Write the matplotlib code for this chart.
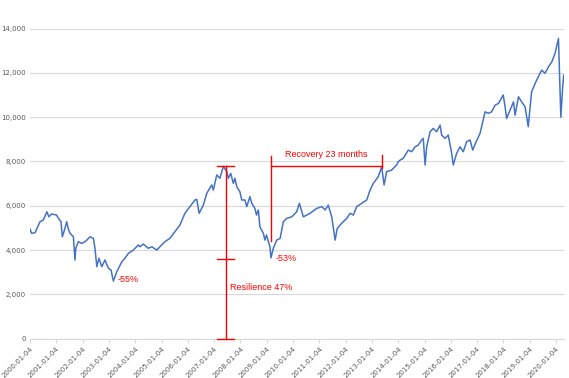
import matplotlib.pyplot as plt

# index level (decimal year, value)
years = [2000.01, 2000.07, 2000.20, 2000.39, 2000.52, 2000.65, 2000.73, 2000.83, 2001.02, 2001.09,
         2001.19, 2001.24, 2001.34, 2001.405, 2001.47, 2001.53, 2001.66, 2001.72, 2001.75, 2001.85,
         2001.98, 2002.10, 2002.17, 2002.29, 2002.42, 2002.48, 2002.55, 2002.63, 2002.74, 2002.86,
         2002.99, 2003.09, 2003.18, 2003.31, 2003.50, 2003.62, 2003.75, 2003.94, 2004.13, 2004.19,
         2004.32, 2004.51, 2004.64, 2004.83, 2004.95, 2005.14, 2005.33, 2005.52, 2005.71, 2005.90,
         2006.09, 2006.28, 2006.35, 2006.44, 2006.60, 2006.73, 2006.92, 2006.98, 2007.11, 2007.23,
         2007.36, 2007.49, 2007.55, 2007.64, 2007.74, 2007.80, 2007.87, 2007.99, 2008.06, 2008.18,
         2008.25, 2008.37, 2008.44, 2008.56, 2008.62, 2008.69, 2008.75, 2008.88, 2008.94, 2009.00,
         2009.13, 2009.17, 2009.26, 2009.39, 2009.52, 2009.64, 2009.77, 2009.96, 2010.15, 2010.25,
         2010.40, 2010.66, 2010.91, 2011.10, 2011.23, 2011.35, 2011.48, 2011.61, 2011.69, 2011.86,
         2012.05, 2012.18, 2012.30, 2012.43, 2012.62, 2012.81, 2012.94, 2013.06, 2013.25, 2013.38,
         2013.47, 2013.57, 2013.76, 2013.95, 2014.01, 2014.08, 2014.20, 2014.39, 2014.52, 2014.65,
         2014.77, 2014.90, 2014.96, 2015.03, 2015.09, 2015.22, 2015.34, 2015.47, 2015.60, 2015.66,
         2015.79, 2015.91, 2016.04, 2016.10, 2016.23, 2016.36, 2016.48, 2016.61, 2016.74, 2016.84,
         2016.97, 2017.12, 2017.18, 2017.31, 2017.43, 2017.56, 2017.69, 2017.82, 2018.00, 2018.07,
         2018.13, 2018.26, 2018.39, 2018.45, 2018.58, 2018.70, 2018.83, 2018.95, 2019.08, 2019.27,
         2019.46, 2019.59, 2019.72, 2019.85, 2019.97, 2020.10, 2020.19, 2020.26, 2020.30]
values = [4950, 4760, 4780, 5280, 5360, 5730, 5500, 5630, 5580, 5430,
          5280, 4600, 4980, 5280, 4940, 4760, 4600, 3550, 4080, 4380,
          4300, 4380, 4450, 4600, 4530, 4080, 3250, 3630, 3250, 3550,
          3180, 3100, 2600, 3020, 3470, 3630, 3850, 4000, 4230, 4150,
          4270, 4080, 4150, 4000, 4150, 4380, 4530, 4830, 5130, 5660,
          5960, 6260, 6290, 5660, 6030, 6560, 6940, 6710, 7390, 7240,
          7780, 7540, 7240, 7460, 7010, 7240, 6860, 6630, 6260, 6260,
          5960, 6410, 6110, 5880, 5580, 5810, 5050, 4760, 4450, 4680,
          4150, 3650, 4080, 4450, 4530, 5280, 5430, 5500, 5730, 6110,
          5500, 5660, 5880, 5960, 5810, 6030, 5500, 4450, 4980, 5210,
          5430, 5660, 5580, 5960, 6110, 6260, 6710, 7010, 7310, 7760,
          6940, 7540, 7610, 7840, 7990, 8060, 8140, 8510, 8440, 8660,
          8740, 8970, 9040, 7840, 8660, 9340, 9490, 9340, 9640, 9190,
          9040, 9190, 8370, 7840, 8370, 8660, 8440, 8890, 8970, 8510,
          8890, 9270, 9570, 10240, 10170, 10240, 10540, 10620, 11000, 10470,
          9940, 10320, 10690, 10090, 10920, 10690, 10470, 9570, 11150, 11670,
          12120, 11980, 12270, 12500, 12880, 13550, 10000, 11370, 11900]

tick_years = list(range(2000, 2021))
tick_labels = [f'{y}-01-04' for y in tick_years]

peak, trough, recovered = 7800, 3600, 7800
res_x = 2007.45
rec_x0, rec_x1 = 2009.16, 2013.38

RED = '#FF0000'
GREY = '#595959'

fig = plt.figure(figsize=(5.69, 3.78), dpi=100)
ax = fig.add_axes([0.0527, 0.104, 0.9385, 0.8206])

ax.plot(years, values, color='#4472C4', lw=1.1)

# resilience bar
ax.plot([res_x, res_x], [0, peak], color=RED, lw=1, clip_on=False, zorder=4)
for yy in (0, trough, peak):
    ax.plot([res_x - 0.33, res_x + 0.33], [yy, yy], color=RED, lw=1, clip_on=False, zorder=4)
ax.text(res_x + 0.18, 2300, 'Resilience 47%', color=RED, fontsize=6.5,
        family='Liberation Sans', va='center', ha='left')

# recovery bracket
ax.plot([rec_x0, rec_x0], [4400, 8250], color=RED, lw=1, zorder=4)
ax.plot([rec_x0, rec_x1], [peak, recovered], color=RED, lw=1, zorder=4)
ax.plot([rec_x1, rec_x1], [7700, 8300], color=RED, lw=1, zorder=4)
ax.text((rec_x0 + rec_x1) / 2, 8300, 'Recovery 23 months', color=RED, fontsize=6.5,
        family='Liberation Sans', va='center', ha='center')

ax.text(2003.35, 2680, '-55%', color=RED, fontsize=6.5, family='Liberation Sans', va='center')
ax.text(2009.35, 3610, '-53%', color=RED, fontsize=6.5, family='Liberation Sans', va='center')

ax.set_xlim(2000.01, 2020.31)
ax.set_ylim(0, 14000)
ax.set_yticks(range(0, 14001, 2000))
ax.set_yticklabels([f'{v:,}' for v in range(0, 14001, 2000)])
ax.set_xticks([y + 0.01 for y in tick_years])
ax.set_xticklabels(tick_labels, rotation=45, ha='right', rotation_mode='anchor')

ax.yaxis.grid(True, color='#D9D9D9', lw=0.8)
ax.set_axisbelow(True)
for s in ('top', 'right', 'left'):
    ax.spines[s].set_visible(False)
ax.spines['bottom'].set_color('#D9D9D9')
ax.tick_params(axis='y', length=0, labelsize=5, labelcolor=GREY, pad=3)
ax.tick_params(axis='x', length=3, color='#D9D9D9', labelsize=5, labelcolor=GREY, pad=2)

fig.savefig('out.png', dpi=100)
